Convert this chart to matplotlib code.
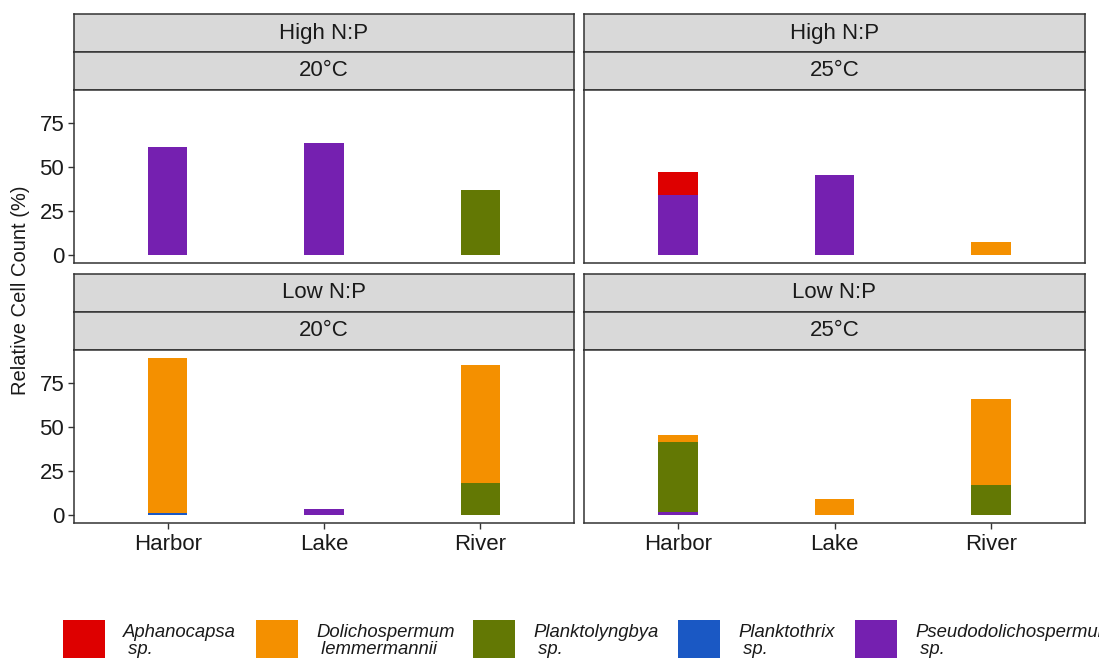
import numpy as np
import matplotlib.pyplot as plt
from matplotlib.patches import Rectangle

plt.rcParams['font.family'] = ['Liberation Sans', 'DejaVu Sans']

sites = ['Harbor', 'Lake', 'River']
species = ['Aphanocapsa\n sp.', 'Dolichospermum\n lemmermannii', 'Planktolyngbya\n sp.',
           'Planktothrix\n sp.', 'Pseudodolichospermum\n sp.']
species_colors = ['#DE0000', '#F49000', '#637804', '#1A58C4', '#7520B0']

# relative cell counts (%), one row per species, columns Harbor / Lake / River
high_np_20 = [[0, 0, 0], [0, 0, 0], [0, 0, 37.1], [0, 0, 0], [61.2, 63.5, 0]]
high_np_25 = [[12.9, 0, 0], [0, 0, 7.4], [0, 0, 0], [0, 0, 0], [34.3, 45.6, 0]]
low_np_20 = [[0, 0, 0], [88.1, 0, 67.2], [0, 0, 18.2], [1.1, 0, 0], [0, 3.4, 0]]
low_np_25 = [[0, 0, 0], [4.2, 9.3, 48.9], [39.6, 0, 17.0], [0, 0, 0], [1.7, 0, 0]]

facets = [('High N:P', '20°C', high_np_20), ('High N:P', '25°C', high_np_25),
          ('Low N:P', '20°C', low_np_20), ('Low N:P', '25°C', low_np_25)]

W, H = 1099, 658
fig = plt.figure(figsize=(W / 100, H / 100), dpi=100)


def box(x0, y0, x1, y1):
    # pixel box (top-left origin) -> figure fraction rect
    return [x0 / W, 1 - y1 / H, (x1 - x0) / W, (y1 - y0) / H]


cols = [(74, 574), (584, 1085)]
rows = [(14, 52, 90, 263), (274, 312, 350, 523)]

ymax = max(np.sum(np.array(d), axis=0).max() for _, _, d in facets)
pad = 0.05 * ymax
edge = '#333333'
x = np.arange(len(sites))

for i, (np_label, temp, data) in enumerate(facets):
    r, c = divmod(i, 2)
    x0, x1 = cols[c]
    s0, s1, p0, p1 = rows[r]

    # two strip headers
    for (t0, t1), label in [((s0, s1), np_label), ((s1, p0), temp)]:
        sax = fig.add_axes(box(x0, t0, x1, t1))
        sax.set_facecolor('#D9D9D9')
        sax.set_xticks([])
        sax.set_yticks([])
        for sp in sax.spines.values():
            sp.set_color(edge)
            sp.set_linewidth(1.1)
        sax.text(0.5, 0.5, label, ha='center', va='center', fontsize=16,
                 color='#1A1A1A', transform=sax.transAxes)

    ax = fig.add_axes(box(x0, p0, x1, p1))
    vals = np.array(data, dtype=float)
    bottom = np.zeros(len(sites))
    # stacked from last species upward
    for k in range(len(species) - 1, -1, -1):
        ax.bar(x, vals[k], 0.25, bottom=bottom, color=species_colors[k],
               edgecolor='none')
        bottom += vals[k]

    ax.set_xlim(-0.6, len(sites) - 0.4)
    ax.set_ylim(-pad, ymax + pad)
    for sp in ax.spines.values():
        sp.set_color(edge)
        sp.set_linewidth(1.1)
    ax.tick_params(length=4, width=1, color=edge, labelsize=16, labelcolor='#1A1A1A')
    ax.set_yticks([0, 25, 50, 75])
    ax.set_xticks(x)
    if c == 0:
        ax.tick_params(axis='y', pad=3)
    else:
        ax.tick_params(axis='y', left=False, labelleft=False)
    if r == 1:
        ax.set_xticklabels(sites)
        ax.tick_params(axis='x', pad=4)
    else:
        ax.tick_params(axis='x', bottom=False, labelbottom=False)

fig.text(21 / W, 1 - 290 / H, 'Relative Cell Count (%)', rotation=90, ha='center',
         va='center', fontsize=14.5, color='#1A1A1A')

# legend along the bottom edge
key_left = [63, 256, 473, 678, 855]
for kx, label, col in zip(key_left, species, species_colors):
    fig.add_artist(Rectangle((kx / W, 1 - 662 / H), 42 / W, 42 / H, transform=fig.transFigure,
                             facecolor=col, edgecolor='none'))
    fig.text((kx + 60) / W, 1 - 641 / H, label, ha='left', va='center', fontsize=13.3,
             style='italic', color='#1A1A1A', linespacing=1.0)

fig.savefig('out.png', dpi=100)
